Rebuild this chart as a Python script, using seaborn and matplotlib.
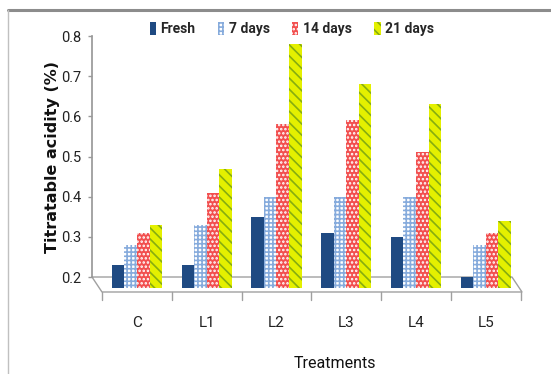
import matplotlib
matplotlib.use("Agg")
import matplotlib.pyplot as plt
import pandas as pd
import seaborn as sns
from matplotlib.lines import Line2D
from matplotlib.patches import Patch

treatments = ["C", "L1", "L2", "L3", "L4", "L5"]
periods = ["Fresh", "7 days", "14 days", "21 days"]
fresh = [0.23, 0.23, 0.35, 0.31, 0.30, 0.20]
day7 = [0.28, 0.33, 0.40, 0.40, 0.40, 0.28]
day14 = [0.31, 0.41, 0.58, 0.59, 0.51, 0.31]
day21 = [0.33, 0.47, 0.78, 0.68, 0.63, 0.34]
y_ticks = [0.2, 0.3, 0.4, 0.5, 0.6, 0.7, 0.8]

df = pd.DataFrame({
    "Treatment": treatments * 4,
    "Period": sum([[p] * len(treatments) for p in periods], []),
    "Acidity": fresh + day7 + day14 + day21,
})

sns.set_theme(style="white")
narrow = ["Roboto", "DejaVu Sans"]
plt.rcParams["font.family"] = narrow
plt.rcParams["hatch.linewidth"] = 1.2

# face colour, hatch colour, hatch pattern per storage period
styles = {
    "Fresh":   ("#1f4a82", "#1f4a82", ""),
    "7 days":  ("#ffffff", "#86abdc", "++++"),
    "14 days": ("#f24f4f", "#ffffff", "...."),
    "21 days": ("#e4f000", "#86ad10", "\\\\\\"),
}

fig = plt.figure(figsize=(5.51, 3.74), dpi=100)
ax = fig.add_axes([92 / 551, 1 - 288 / 374, 430 / 551, 252 / 374])

sns.barplot(data=df, x="Treatment", y="Acidity", hue="Period",
            order=treatments, hue_order=periods, width=0.72, gap=0,
            legend=False, ax=ax, zorder=2)

for cont, p in zip(ax.containers, periods):
    fc, hc, hatch = styles[p]
    for bar in cont:
        bar.set_facecolor(fc)
        bar.set_edgecolor(hc)
        bar.set_hatch(hatch)
        bar.set_linewidth(0)

ax.set_xlim(-0.645, 5.52)
ax.set_ylim(0.2 - 11 / 402, 0.8)
ax.set_yticks(y_ticks)
ax.set_yticklabels([f"{v:.1f}" for v in y_ticks], fontsize=10.5)
ax.set_xticks(range(len(treatments)))
ax.set_xticklabels(treatments, fontsize=11)
ax.tick_params(axis="x", length=0, pad=20, colors="#222222")
ax.tick_params(axis="y", length=3, width=1, pad=5, colors="#222222",
               direction="out", color="#999999", left=True)
for s in ["top", "right", "bottom"]:
    ax.spines[s].set_visible(False)
ax.spines["left"].set_bounds(0.2, 0.8)
ax.spines["left"].set_color("#999999")
ax.set_xlabel("")
ax.set_ylabel("")

# floor of the plot area
y_back, y_front, y_tick = 0.2, 0.2 - 15 / 402, 0.2 - 23 / 402
floor_x = [-0.645, 5.376, 5.52, -0.502, -0.645]
floor_y = [y_back, y_back, y_front, y_front, y_back]
ax.plot(floor_x, floor_y, color="#a0a0a0", lw=1, clip_on=False, zorder=1)
for b in [-0.5 + i for i in range(len(treatments) + 1)]:
    ax.plot([b, b], [y_front, y_tick], color="#a0a0a0", lw=1,
            clip_on=False, zorder=1)

handles = [Patch(facecolor=styles[p][0], edgecolor=styles[p][1],
                 hatch=styles[p][2], linewidth=0, label=p) for p in periods]
fig.legend(handles=handles, loc="center", ncol=4,
           bbox_to_anchor=(292 / 551, 1 - 29 / 374), frameon=False,
           prop={"family": narrow, "weight": "bold", "size": 10},
           handlelength=0.45, handleheight=1.1, handletextpad=0.35,
           columnspacing=1.6, borderpad=0)

fig.text(52 / 551, 1 - 157 / 374, "Titratable acidity (%)", rotation=90,
         ha="center", va="center", fontsize=11.5, fontweight="bold",
         family="DejaVu Sans", color="#111111")
fig.text(335 / 551, 1 - 364 / 374, "Treatments", ha="center", va="center",
         fontsize=11.5, color="#111111")

# chart frame
fig.add_artist(Line2D([8 / 551, 1], [1 - 10 / 374] * 2, color="#8c8c8c",
                      lw=2.2))
fig.add_artist(Line2D([8 / 551] * 2, [0, 1 - 10 / 374], color="#c0c0c0",
                      lw=1))

fig.savefig("out.png", dpi=100)
